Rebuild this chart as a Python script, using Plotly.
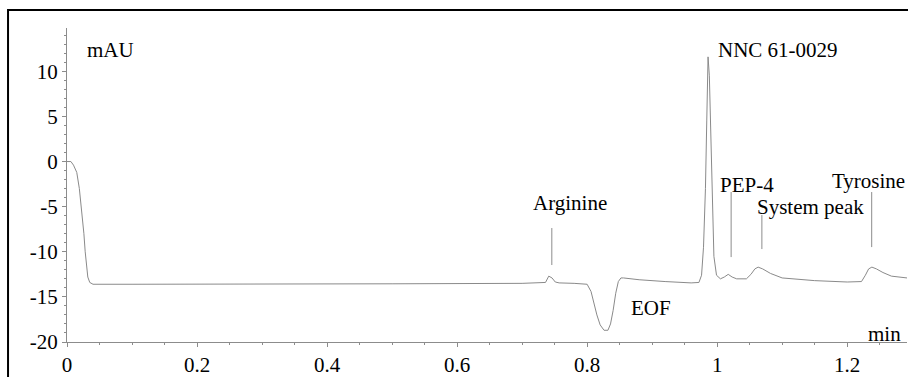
import plotly.graph_objects as go

# Electropherogram trace (time in min, absorbance in mAU)
time_min = [0.000, 0.006, 0.010, 0.015, 0.019, 0.023, 0.026, 0.028, 0.030, 0.032, 0.035, 0.040,
            0.100, 0.300, 0.500, 0.700, 0.736, 0.741, 0.746, 0.751, 0.757, 0.780, 0.800, 0.806,
            0.810, 0.815, 0.820, 0.826, 0.832, 0.836, 0.840, 0.844, 0.848, 0.852, 0.856, 0.880,
            0.920, 0.960, 0.972, 0.976, 0.979, 0.982, 0.984, 0.986, 0.988, 0.990, 0.992, 0.995,
            0.999, 1.005, 1.011, 1.017, 1.023, 1.030, 1.045, 1.052, 1.058, 1.063, 1.070, 1.082,
            1.100, 1.150, 1.200, 1.222, 1.228, 1.233, 1.238, 1.245, 1.255, 1.268, 1.292]
mau = [0.0, 0.0, -0.4, -1.2, -3.0, -5.6, -8.0, -10.0, -11.8, -12.8, -13.4, -13.6,
       -13.6, -13.6, -13.55, -13.5, -13.4, -12.7, -12.9, -13.35, -13.45, -13.5, -13.6, -14.4,
       -15.6, -17.0, -18.1, -18.7, -18.7, -18.0, -16.5, -14.6, -13.3, -12.9, -12.9, -13.1,
       -13.3, -13.45, -13.4, -12.6, -9.5, -3.0, 4.5, 11.6, 9.5, 3.0, -4.0, -10.5,
       -12.6, -13.0, -12.8, -12.5, -12.8, -13.0, -13.0, -12.5, -11.9, -11.7, -11.9, -12.4,
       -12.9, -13.2, -13.35, -13.3, -12.6, -11.9, -11.7, -11.9, -12.3, -12.7, -12.9]

x_ticks = [0, 0.2, 0.4, 0.6, 0.8, 1, 1.2]
x_tick_labels = ["0", "0.2", "0.4", "0.6", "0.8", "1", "1.2"]
y_ticks = [-20, -15, -10, -5, 0, 5, 10]
y_tick_labels = ["-20", "-15", "-10", "-5", "0", "5", "10"]

# Peak labels
peak_names = ["Arginine", "EOF", "NNC 61-0029", "PEP-4", "System peak", "Tyrosine"]
peak_times = [0.7457, None, None, 1.0215, 1.0688, 1.2377]

# label placement (data units) and marker-line extents
label_x = [0.7738, 0.898, 0.9985, 1.046, 1.143, 1.2915]
label_y = [-4.6, -16.2, 12.35, -2.55, -5.05, -2.2]
label_anchor = ["center", "center", "left", "center", "center", "right"]
line_top = [-7.37, None, None, -3.38, -5.93, -3.38]
line_bottom = [-11.47, None, None, -10.59, -9.70, -9.48]

FONT = "Liberation Serif"
GRAY = "#8c8c8c"
FS = 21

fig = go.Figure()
fig.add_trace(go.Scatter(x=time_min, y=mau, mode="lines",
                         line=dict(color="#8a8a8a", width=1), hoverinfo="skip",
                         showlegend=False))

for name, px, lx, ly, anc, t, b in zip(peak_names, peak_times, label_x, label_y,
                                       label_anchor, line_top, line_bottom):
    fig.add_annotation(x=lx, y=ly, xref="x", yref="y", text=name, showarrow=False,
                       xanchor=anc, yanchor="middle",
                       font=dict(family=FONT, size=FS, color="black"))
    if px is not None:
        fig.add_shape(type="line", xref="x", yref="y", x0=px, x1=px, y0=t, y1=b,
                      line=dict(color=GRAY, width=1))

fig.add_annotation(x=0.0277, y=12.35, xref="x", yref="y", text="mAU", showarrow=False,
                   xanchor="left", yanchor="middle",
                   font=dict(family=FONT, size=FS, color="black"))
fig.add_annotation(x=1.286, y=-19.1, xref="x", yref="y", text="min", showarrow=False,
                   xanchor="right", yanchor="middle",
                   font=dict(family=FONT, size=FS, color="black"))

# outer frame of the figure
fig.add_shape(type="rect", xref="paper", yref="paper", x0=-0.0702, x1=1.3,
              y0=-0.3, y1=1.0573, line=dict(color="black", width=2), layer="below")

fig.update_layout(
    width=908, height=377,
    margin=dict(l=67, r=1, t=28, b=35),
    paper_bgcolor="white", plot_bgcolor="white",
    font=dict(family=FONT, size=FS, color="black"),
    xaxis=dict(range=[0, 1.292], tickvals=x_ticks, ticktext=x_tick_labels,
               showgrid=False, zeroline=False, showline=True, linecolor=GRAY, linewidth=1,
               ticks="outside", ticklen=4, tickcolor=GRAY, tickwidth=1,
               minor=dict(dtick=0.05, ticks="outside", ticklen=2, tickcolor=GRAY, showgrid=False),
               tickfont=dict(family=FONT, size=FS, color="black")),
    yaxis=dict(range=[-20, 14.8], tickvals=y_ticks, ticktext=y_tick_labels,
               showgrid=False, zeroline=False, showline=True, linecolor=GRAY, linewidth=1,
               ticks="outside", ticklen=4, tickcolor=GRAY, tickwidth=1,
               minor=dict(dtick=1, ticks="outside", ticklen=2, tickcolor=GRAY, showgrid=False),
               tickfont=dict(family=FONT, size=FS, color="black")),
)

fig.write_html("out.html", config={"displayModeBar": False},
               post_script="document.body.style.margin='0';document.body.style.overflow='hidden';")
